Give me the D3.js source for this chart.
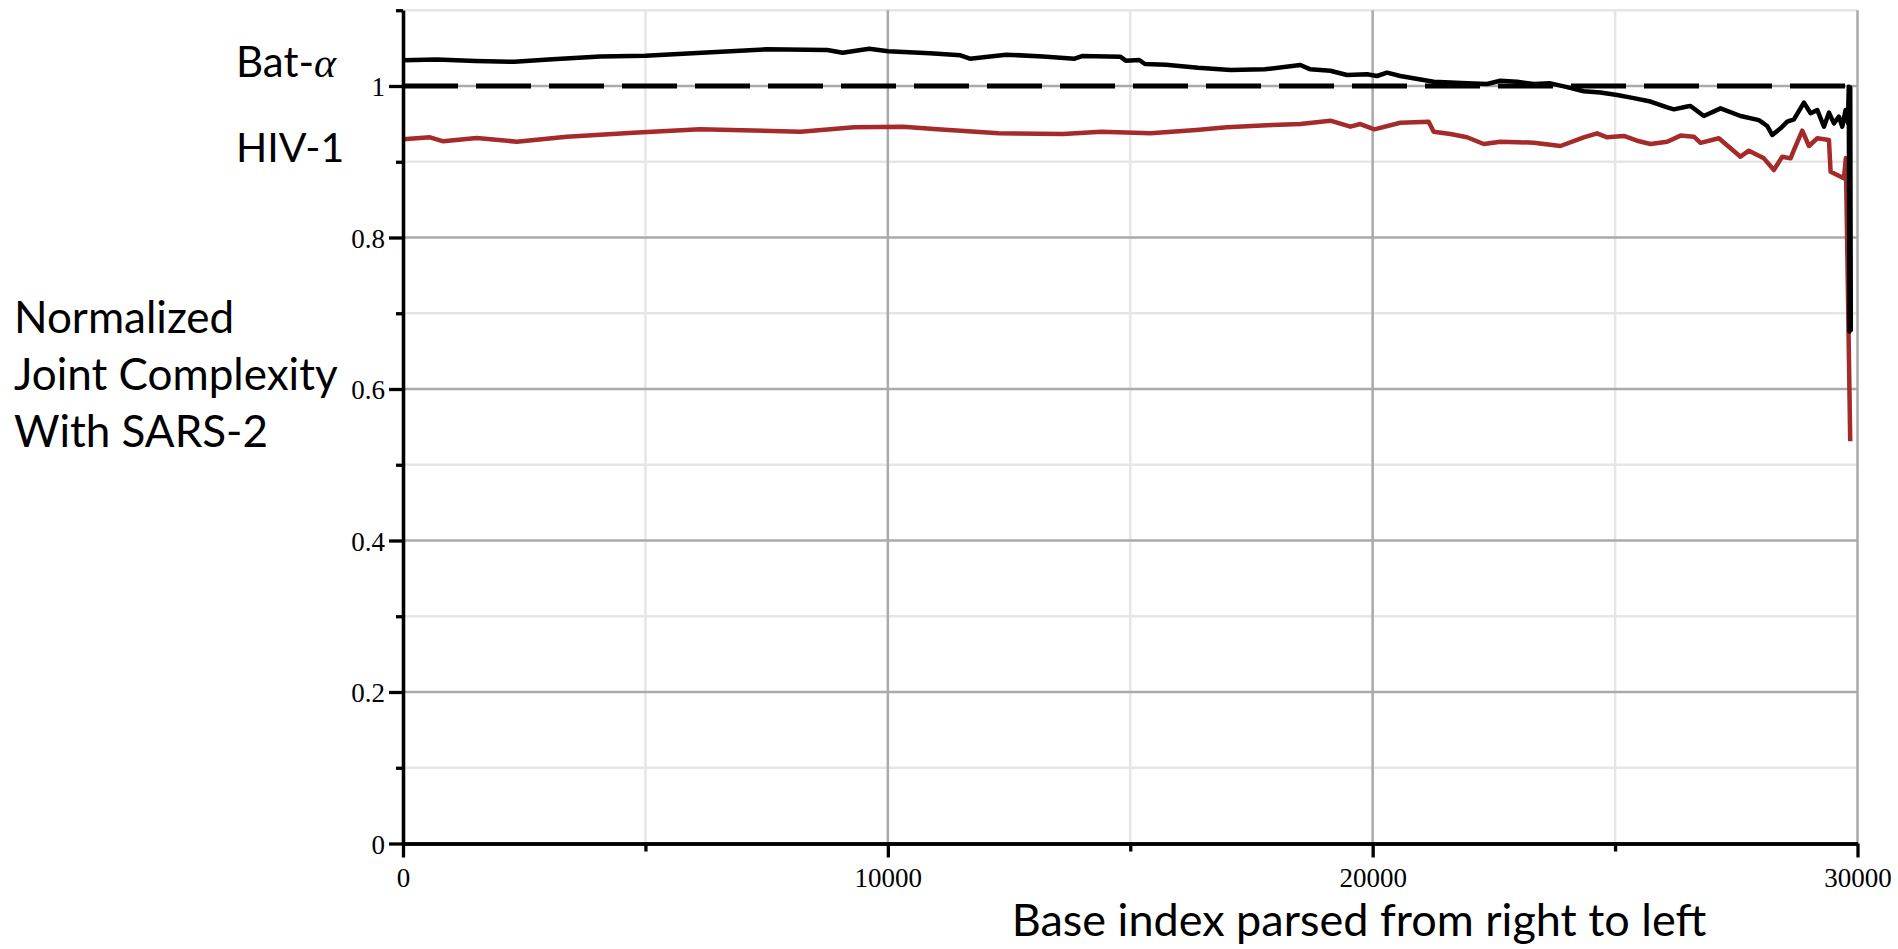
<!DOCTYPE html>
<html>
<head>
<meta charset="utf-8">
<script src="https://cdn.jsdelivr.net/npm/d3@7"></script>
<style>
  body { margin: 0; background: #fff; }
  svg { display: block; }
</style>
</head>
<body>
<div id="chart"></div>
<script>
/* Values */
const batIndex = [0, 700, 1500, 2300, 3000, 4064, 5000, 6163, 7496, 8752, 9066, 9615, 10007, 10869, 11497, 11693,
  12440, 13200, 13851, 14008, 14792, 14909, 15185, 15303, 15735, 16400, 17068, 17773, 18508, 18714, 19127, 19471,
  19884, 20090, 20297, 20571, 21259, 21947, 22360, 22634, 22978, 23322, 23666, 24010, 24354, 24698, 25042, 25386,
  25730, 26075, 26212, 26487, 26556, 26831, 27175, 27587, 27966, 28138, 28241, 28413, 28551, 28689, 28895, 29033,
  29171, 29308, 29411, 29514, 29617, 29686, 29755, 29803, 29820, 29835, 29850, 29862];
const batValue = [1.034, 1.035, 1.033, 1.032, 1.035, 1.039, 1.040, 1.044, 1.0484, 1.0475, 1.0440, 1.0493, 1.0458, 1.0431, 1.0405, 1.0361,
  1.0414, 1.039, 1.0361, 1.0396, 1.0387, 1.0334, 1.0343, 1.029, 1.0281, 1.024, 1.0211, 1.022, 1.0277, 1.022, 1.0202, 1.0145,
  1.0154, 1.0132, 1.0176, 1.0132, 1.0057, 1.0035, 1.0026, 1.007, 1.0057, 1.0026, 1.0035, 0.9985, 0.993, 0.9915, 0.988, 0.984,
  0.9795, 0.9718, 0.9692, 0.973, 0.9736, 0.9604, 0.9705, 0.9604, 0.955, 0.9472, 0.9353, 0.9441, 0.9529, 0.956, 0.978, 0.964,
  0.9683, 0.9463, 0.9648, 0.9507, 0.9595, 0.9463, 0.9683, 0.951, 0.999, 0.676, 0.998, 0.676];

const hivIndex = [0, 557, 832, 1520, 2346, 3378, 4751, 6128, 7000, 8201, 9301, 10320, 11026, 12283, 13615, 14399,
  15420, 16362, 16989, 17930, 18508, 19127, 19539, 19746, 20035, 20571, 21155, 21259, 21603, 21947, 22291, 22634,
  23322, 23873, 24354, 24629, 24835, 25179, 25454, 25730, 26075, 26350, 26625, 26762, 27140, 27587, 27760, 28069,
  28275, 28447, 28620, 28689, 28861, 28999, 29171, 29411, 29445, 29720, 29760, 29850];
const hivValue = [0.9296, 0.9323, 0.927, 0.9314, 0.9265, 0.9331, 0.9384, 0.943, 0.9415, 0.9397, 0.9455, 0.9463, 0.9428, 0.9375, 0.9366, 0.9397,
  0.9375, 0.9419, 0.9455, 0.9485, 0.9498, 0.9542, 0.9463, 0.9498, 0.9428, 0.9515, 0.9529, 0.9397, 0.9366, 0.9323, 0.9234, 0.9265,
  0.9252, 0.9208, 0.9323, 0.9375, 0.9323, 0.934, 0.9278, 0.9235, 0.9265, 0.9345, 0.9331, 0.925, 0.931, 0.9067, 0.9146, 0.9045,
  0.8891, 0.9067, 0.9045, 0.9155, 0.941, 0.9208, 0.931, 0.9287, 0.8869, 0.8781, 0.905, 0.531];

const xDomain = [0, 30000];
const yDomain = [0, 1.1];
const xMajorTicks = [0, 10000, 20000, 30000];
const xMinorTicks = [5000, 15000, 25000];
const yMajorTicks = [0, 0.2, 0.4, 0.6, 0.8, 1];
const yMinorTicks = [0.1, 0.3, 0.5, 0.7, 0.9, 1.1];
const referenceLevel = 1;

const yTitleLines = ["Normalized", "Joint Complexity", "With SARS-2"];
const xTitle = "Base index parsed from right to left";

const batData = batIndex.map((d, i) => ({ x: d, y: batValue[i] }));
const hivData = hivIndex.map((d, i) => ({ x: d, y: hivValue[i] }));

const width = 1898, height = 949;

const svg = d3.select("#chart")
  .append("svg")
  .attr("width", width)
  .attr("height", height);

const xScale = d3.scaleLinear().domain(xDomain).range([403, 1857.5]);
const yScale = d3.scaleLinear().domain(yDomain).range([843.5, 10.25]);

// Gridlines (light ones first, darker ones on top)
const grid = svg.append("g");
grid.selectAll(".vminor")
  .data(xMinorTicks)
  .join("line")
  .attr("x1", d => xScale(d)).attr("x2", d => xScale(d))
  .attr("y1", yScale(0)).attr("y2", yScale(1.1))
  .attr("stroke", "#e6e6e6").attr("stroke-width", 2.5);
grid.selectAll(".hminor")
  .data(yMinorTicks)
  .join("line")
  .attr("x1", xScale(0)).attr("x2", xScale(30000))
  .attr("y1", d => yScale(d)).attr("y2", d => yScale(d))
  .attr("stroke", "#e6e6e6").attr("stroke-width", 2.5);
grid.selectAll(".hmajor")
  .data(yMajorTicks.filter(d => d > 0))
  .join("line")
  .attr("x1", xScale(0)).attr("x2", xScale(30000))
  .attr("y1", d => yScale(d)).attr("y2", d => yScale(d))
  .attr("stroke", "#aaaaaa").attr("stroke-width", 2.5);
grid.selectAll(".vmajor")
  .data(xMajorTicks.filter(d => d > 0))
  .join("line")
  .attr("x1", d => xScale(d)).attr("x2", d => xScale(d))
  .attr("y1", yScale(0)).attr("y2", yScale(1.1))
  .attr("stroke", "#aaaaaa").attr("stroke-width", 2.5);

// Dashed line at 1
svg.append("line")
  .attr("x1", xScale(0)).attr("x2", xScale(30000))
  .attr("y1", yScale(referenceLevel)).attr("y2", yScale(referenceLevel))
  .attr("stroke", "#000").attr("stroke-width", 5)
  .attr("stroke-dasharray", "55,18");

// Data lines
const line = d3.line()
  .x(d => xScale(d.x))
  .y(d => yScale(d.y));

svg.append("path")
  .datum(hivData)
  .attr("d", line)
  .attr("fill", "none")
  .attr("stroke", "#a52a2a")
  .attr("stroke-width", 4.5)
  .attr("stroke-linejoin", "round");

svg.append("path")
  .datum(batData)
  .attr("d", line)
  .attr("fill", "none")
  .attr("stroke", "#000")
  .attr("stroke-width", 4.5)
  .attr("stroke-linejoin", "round");

// Axes
const styleAxis = g => {
  g.selectAll("path, line").attr("stroke", "#000").attr("stroke-width", 3.3);
  g.selectAll("text")
    .attr("fill", "#000")
    .style("font-family", "'Liberation Serif', 'Times New Roman', serif")
    .style("font-size", "27px");
};

svg.append("g")
  .attr("transform", `translate(0, ${yScale(0)})`)
  .call(d3.axisBottom(xScale).tickValues(xMinorTicks).tickSize(8).tickSizeOuter(0).tickFormat(""))
  .call(styleAxis);
svg.append("g")
  .attr("transform", `translate(0, ${yScale(0)})`)
  .call(d3.axisBottom(xScale).tickValues(xMajorTicks).tickSize(14).tickSizeOuter(0).tickPadding(10).tickFormat(d3.format("d")))
  .call(styleAxis);

svg.append("g")
  .attr("transform", `translate(${xScale(0)}, 0)`)
  .call(d3.axisLeft(yScale).tickValues(yMinorTicks).tickSize(7).tickSizeOuter(0).tickFormat(""))
  .call(styleAxis);
svg.append("g")
  .attr("transform", `translate(${xScale(0)}, 0)`)
  .call(d3.axisLeft(yScale).tickValues(yMajorTicks).tickSize(14).tickSizeOuter(0).tickPadding(4).tickFormat(d => d3.format("")(d)))
  .call(styleAxis)
  .call(g => g.selectAll("text").attr("dy", "0.36em"));

// Series labels
const labelFont = "Lato, 'Open Sans', sans-serif";
const bat = svg.append("text")
  .attr("x", 236).attr("y", 77)
  .style("font-family", labelFont)
  .style("font-size", "42px")
  .attr("fill", "#000");
bat.append("tspan").text("Bat-");
bat.append("tspan")
  .style("font-family", "'Liberation Serif', serif")
  .style("font-style", "italic")
  .text("α");

svg.append("text")
  .attr("x", 236).attr("y", 162)
  .style("font-family", labelFont)
  .style("font-size", "41px")
  .attr("fill", "#000")
  .text("HIV-1");

// Axis titles
svg.append("g")
  .selectAll("text")
  .data(yTitleLines)
  .join("text")
  .attr("x", 14)
  .attr("y", (d, i) => 333 + i * 57)
  .style("font-family", labelFont)
  .style("font-size", "44px")
  .attr("fill", "#000")
  .text(d => d);

svg.append("text")
  .attr("x", 1359).attr("y", 936)
  .attr("text-anchor", "middle")
  .style("font-family", labelFont)
  .style("font-size", "45px")
  .attr("fill", "#000")
  .text(xTitle);
</script>
</body>
</html>
